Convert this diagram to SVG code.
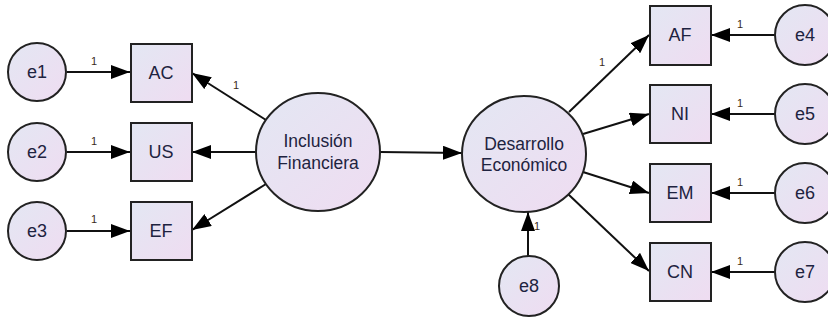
<svg xmlns="http://www.w3.org/2000/svg" width="828" height="320" viewBox="0 0 828 320">
<defs>
<linearGradient id="g" x1="0" y1="0" x2="1" y2="1">
<stop offset="0" stop-color="#e3e7f3"/>
<stop offset="1" stop-color="#efdcf1"/>
</linearGradient>
<marker id="ah" markerWidth="20" markerHeight="14" refX="19" refY="7" orient="auto" markerUnits="userSpaceOnUse">
<path d="M0,0 L19,7 L0,14 Z" fill="#000"/>
</marker>
<style>
.n{fill:url(#g);stroke:#222;stroke-width:2}
.t{font-family:"Liberation Sans",Arial,sans-serif;font-size:18px;fill:#1e2340;text-anchor:middle}
.tc{font-family:"Liberation Sans",Arial,sans-serif;font-size:17.5px;fill:#1e2340;text-anchor:middle}
.c{stroke:#111;stroke-width:2;fill:none;marker-end:url(#ah)}
.l{font-family:"Liberation Sans",Arial,sans-serif;font-size:11px;fill:#3a2a1a;text-anchor:middle}
</style>
</defs>
<g id="connectors">
<line class="c" x1="67" y1="72" x2="130" y2="72"/>
<line class="c" x1="67" y1="152" x2="130" y2="152"/>
<line class="c" x1="67" y1="231" x2="130" y2="231"/>
<line class="c" x1="266" y1="120" x2="192" y2="73"/>
<line class="c" x1="256" y1="152" x2="192" y2="152"/>
<line class="c" x1="266" y1="184" x2="192" y2="230"/>
<line class="c" x1="380" y1="152" x2="462" y2="153"/>
<line class="c" x1="569" y1="112" x2="649" y2="35"/>
<line class="c" x1="583" y1="134" x2="649" y2="114"/>
<line class="c" x1="583" y1="172" x2="649" y2="193"/>
<line class="c" x1="568" y1="194" x2="649" y2="271"/>
<line class="c" x1="775" y1="35" x2="711" y2="35"/>
<line class="c" x1="775" y1="114" x2="711" y2="114"/>
<line class="c" x1="775" y1="193" x2="711" y2="193"/>
<line class="c" x1="775" y1="272" x2="711" y2="272"/>
<line class="c" x1="528" y1="256" x2="528" y2="212"/>
<text class="l" x="94" y="65">1</text>
<text class="l" x="94" y="145">1</text>
<text class="l" x="94" y="223">1</text>
<text class="l" x="236" y="89">1</text>
<text class="l" x="602" y="66">1</text>
<text class="l" x="740" y="28">1</text>
<text class="l" x="740" y="107">1</text>
<text class="l" x="740" y="186">1</text>
<text class="l" x="740" y="265">1</text>
<text class="l" x="537" y="230">1</text>
</g>
<g id="e1"><circle class="n" cx="37" cy="72" r="29"/><text class="t" x="37" y="78">e1</text></g>
<g id="e2"><circle class="n" cx="37" cy="152" r="29"/><text class="t" x="37" y="158">e2</text></g>
<g id="e3"><circle class="n" cx="37" cy="231" r="29"/><text class="t" x="37" y="237">e3</text></g>
<g id="AC"><rect class="n" x="131" y="44" width="61" height="58"/><text class="t" x="161" y="79">AC</text></g>
<g id="US"><rect class="n" x="131" y="123" width="61" height="58"/><text class="t" x="161" y="158">US</text></g>
<g id="EF"><rect class="n" x="131" y="202" width="61" height="58"/><text class="t" x="161" y="237">EF</text></g>
<g id="IF"><ellipse class="n" cx="318" cy="152" rx="62" ry="59"/><text class="tc" x="318" y="147">Inclusión</text><text class="tc" x="318" y="169">Financiera</text></g>
<g id="DE"><ellipse class="n" cx="524" cy="154" rx="62" ry="58"/><text class="tc" x="524" y="150">Desarrollo</text><text class="tc" x="524" y="171">Económico</text></g>
<g id="e8"><circle class="n" cx="529" cy="286" r="30"/><text class="t" x="529" y="292">e8</text></g>
<g id="AF"><rect class="n" x="650" y="6" width="61" height="59"/><text class="t" x="680" y="41">AF</text></g>
<g id="NI"><rect class="n" x="650" y="85" width="61" height="58"/><text class="t" x="680" y="120">NI</text></g>
<g id="EM"><rect class="n" x="650" y="164" width="61" height="58"/><text class="t" x="680" y="199">EM</text></g>
<g id="CN"><rect class="n" x="650" y="243" width="61" height="58"/><text class="t" x="680" y="278">CN</text></g>
<g id="e4"><circle class="n" cx="805" cy="35" r="30"/><text class="t" x="805" y="41">e4</text></g>
<g id="e5"><circle class="n" cx="805" cy="114" r="30"/><text class="t" x="805" y="120">e5</text></g>
<g id="e6"><circle class="n" cx="805" cy="193" r="30"/><text class="t" x="805" y="199">e6</text></g>
<g id="e7"><circle class="n" cx="805" cy="272" r="30"/><text class="t" x="805" y="278">e7</text></g>
</svg>
